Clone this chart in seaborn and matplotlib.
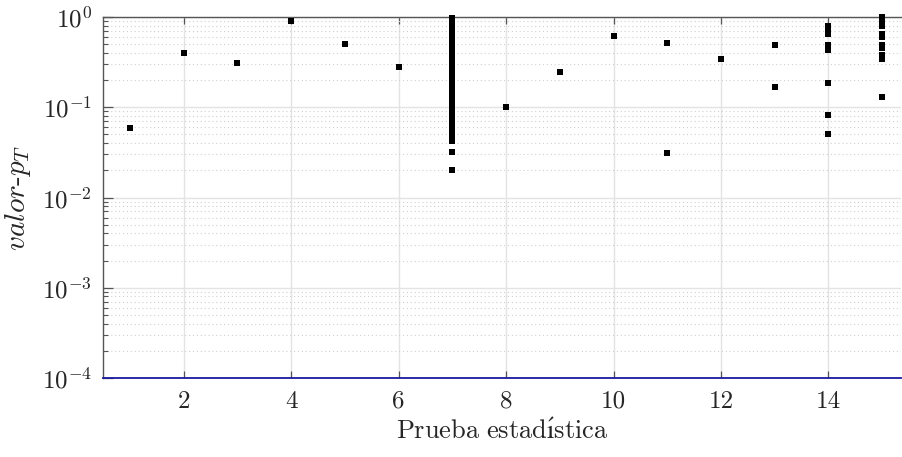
import matplotlib
matplotlib.use("Agg")
import matplotlib.pyplot as plt
import matplotlib.ticker as mticker
import seaborn as sns
import pandas as pd

# ---- data ----
p_test1 = [0.059]
p_test2 = [0.40]
p_test3 = [0.31]
p_test4 = [0.91]
p_test5 = [0.50]
p_test6 = [0.28]
p_test7 = [0.98, 0.93, 0.88, 0.83, 0.78, 0.73, 0.69, 0.65, 0.61, 0.57, 0.53,
           0.50, 0.47, 0.44, 0.41, 0.38, 0.35, 0.33, 0.31, 0.29, 0.27, 0.25,
           0.23, 0.21, 0.195, 0.18, 0.165, 0.15, 0.14, 0.13, 0.12, 0.11, 0.10,
           0.092, 0.085, 0.078, 0.071, 0.065, 0.060, 0.055, 0.050, 0.046,
           0.042, 0.032, 0.020]
p_test8 = [0.10]
p_test9 = [0.244]
p_test10 = [0.62]
p_test11 = [0.51, 0.031]
p_test12 = [0.343]
p_test13 = [0.49, 0.166]
p_test14 = [0.79, 0.74, 0.69, 0.65, 0.49, 0.46, 0.43, 0.187, 0.083, 0.051]
p_test15 = [1.0, 0.92, 0.85, 0.79, 0.64, 0.605, 0.49, 0.45, 0.376, 0.355,
            0.34, 0.131]

all_tests = [p_test1, p_test2, p_test3, p_test4, p_test5, p_test6, p_test7,
             p_test8, p_test9, p_test10, p_test11, p_test12, p_test13,
             p_test14, p_test15]
x_ticks = [2, 4, 6, 8, 10, 12, 14]
y_ticks = [1e-4, 1e-3, 1e-2, 1e-1, 1e0]

rows = []
for i, vals in enumerate(all_tests, start=1):
    for v in vals:
        rows.append({"prueba": i, "p": v})
df = pd.DataFrame(rows)

# ---- style ----
sns.set_theme(style="white")
plt.rcParams["mathtext.fontset"] = "cm"
plt.rcParams["font.family"] = ["cmr10", "DejaVu Serif"]
plt.rcParams["axes.formatter.use_mathtext"] = True

W, H = 902, 457
fig = plt.figure(figsize=(W / 100, H / 100), dpi=100)
left, right, top, bottom = 103, 901, 17, 378
ax = fig.add_axes([left / W, (H - bottom) / H, (right - left) / W, (bottom - top) / H])

sns.scatterplot(data=df, x="prueba", y="p", marker="s", color="black",
                s=24, linewidth=0, ax=ax, clip_on=False, zorder=5)

ax.set_yscale("log")
ax.set_ylim(1e-4, 1e0)
ax.set_xlim(0.5, 15.35)
ax.set_xticks(x_ticks)
ax.set_xticklabels([str(t) for t in x_ticks])
ax.yaxis.set_major_locator(mticker.FixedLocator(y_ticks))
ax.yaxis.set_major_formatter(mticker.LogFormatterMathtext())
ax.yaxis.set_minor_locator(mticker.LogLocator(base=10, subs=range(2, 10), numticks=20))
ax.yaxis.set_minor_formatter(mticker.NullFormatter())

# grids
ax.grid(True, which="major", axis="both", color="#e3e3e3", linewidth=1.0, linestyle="-")
ax.grid(True, which="minor", axis="y", color="#cfcfcf", linewidth=0.8, linestyle=(0, (1, 2.5)))
ax.set_axisbelow(True)

# spines
ax.spines["right"].set_visible(False)
for s in ["left", "top"]:
    ax.spines[s].set_color("#555555")
    ax.spines[s].set_linewidth(1.0)
ax.spines["bottom"].set_color("#1a1aa0")
ax.spines["bottom"].set_linewidth(1.3)

ax.tick_params(axis="x", which="major", direction="in", length=5, width=0.9,
               color="#555555", top=True, bottom=True, labelsize=18, pad=9)
ax.tick_params(axis="y", which="major", direction="in", length=7, width=0.9,
               color="#555555", left=True, right=False, labelsize=18, pad=8)
ax.tick_params(axis="y", which="minor", direction="in", length=3.5, width=0.8,
               color="#555555", left=True, right=False)
ax.tick_params(axis="x", which="minor", bottom=False, top=False)

ax.set_xlabel("$\\mathrm{Prueba\\ estad\\acute{\u0131}stica}$", fontsize=19, labelpad=4,
              color="#262626")
ax.set_ylabel(r"$valor$-$p_T$", fontsize=21, labelpad=6, color="#262626")
for lab in ax.get_xticklabels() + ax.get_yticklabels():
    lab.set_color("#262626")

fig.savefig("out.png", dpi=100)
